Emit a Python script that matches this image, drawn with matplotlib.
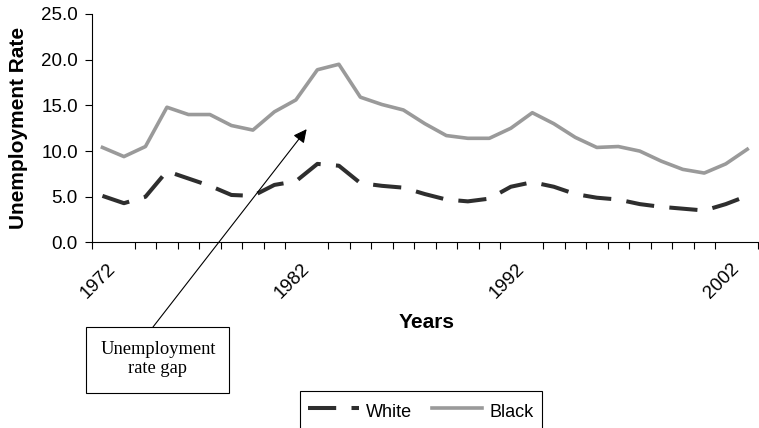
import matplotlib
matplotlib.use('Agg')
import matplotlib.pyplot as plt
from matplotlib.patches import Rectangle
import numpy as np

# Annual unemployment rates (%) by race
years = list(range(1972, 2003))
white = [5.1, 4.3, 5.0, 7.8, 7.0, 6.2, 5.2, 5.1, 6.3, 6.7,
         8.6, 8.4, 6.5, 6.2, 6.0, 5.3, 4.7, 4.5, 4.8, 6.1,
         6.6, 6.1, 5.3, 4.9, 4.7, 4.2, 3.9, 3.7, 3.5, 4.2, 5.1]
black = [10.4, 9.4, 10.5, 14.8, 14.0, 14.0, 12.8, 12.3, 14.3, 15.6,
         18.9, 19.5, 15.9, 15.1, 14.5, 13.0, 11.7, 11.4, 11.4, 12.5,
         14.2, 13.0, 11.5, 10.4, 10.5, 10.0, 8.9, 8.0, 7.6, 8.6, 10.2]
labelled_years = [1972, 1982, 1992, 2002]

plt.rcParams['font.family'] = ['Liberation Sans', 'DejaVu Sans']

W, H = 759, 428
fig = plt.figure(figsize=(W / 100, H / 100), dpi=100)
ax = fig.add_axes([91.7 / W, 1 - 242.5 / H, (758 - 91.7) / W, (242.5 - 14) / H])

x = np.arange(len(years))
ax.plot(x, white, color='#2e2e2e', lw=2.9, dashes=(7, 3.8),
        solid_capstyle='butt', dash_capstyle='butt', label='White')
ax.plot(x, black, color='#9a9a9a', lw=2.6, label='Black')

ax.set_xlim(-0.5, len(years) - 0.5)
ax.set_ylim(0, 25)
ax.set_yticks(np.arange(0, 25.1, 5))
ax.set_yticklabels([f'{v:.1f}' for v in np.arange(0, 25.1, 5)])

# ticks sit between categories, labels every ten years
ax.set_xticks(np.arange(-0.5, len(years), 1), minor=True)
pos = [max(years.index(y) - 0.5, 0.5) for y in labelled_years]
ax.set_xticks(pos)
ax.set_xticklabels([str(y) for y in labelled_years], rotation=45,
                   ha='right', va='center', rotation_mode='anchor')
ax.tick_params(axis='x', which='major', length=0, pad=17, labelsize=13.5)
ax.tick_params(axis='x', which='minor', length=5, width=0.8, direction='out')
ax.tick_params(axis='y', length=5, width=0.8, direction='out', pad=5,
               labelsize=13.5)

for s in ['top', 'right']:
    ax.spines[s].set_visible(False)
for s in ['left', 'bottom']:
    ax.spines[s].set_linewidth(0.8)

ax.set_ylabel('Unemployment Rate', fontsize=15, fontweight='bold', va='center')
ax.yaxis.set_label_coords((18.7 - 91.7) / (758 - 91.7), 0.5)
ax.set_xlabel('Years', fontsize=15, fontweight='bold', va='center')
ax.xaxis.set_label_coords((427 - 91.7) / (758 - 91.7), (242.5 - 322) / 228.5)

# callout box with arrow
fig.add_artist(Rectangle((86 / W, 1 - 393 / H), 143 / W, 66 / H,
                         transform=fig.transFigure, fill=False,
                         edgecolor='black', lw=0.8))
fig.text(158 / W, 1 - 359 / H, 'Unemployment\nrate gap', ha='center',
         va='center', multialignment='center', fontsize=13.3,
         family='Liberation Serif', linespacing=1.2)
ax.annotate('', xy=(9.5, 12.4), xycoords='data',
            xytext=(153 / W, 1 - 327 / H), textcoords='figure fraction',
            arrowprops=dict(arrowstyle='-|>', color='black', lw=0.8,
                            mutation_scale=20, shrinkA=0, shrinkB=0))

leg = fig.legend(loc='upper left', bbox_to_anchor=(300 / W, 1 - 391 / H),
                 ncol=2, fontsize=13, frameon=True, fancybox=False,
                 framealpha=1, edgecolor='black', handlelength=2.8,
                 handleheight=1.6, handletextpad=0.4, columnspacing=1.1,
                 borderpad=0.45, borderaxespad=0)
leg.get_frame().set_linewidth(0.8)

fig.savefig('out.png', dpi=100)
plt.close(fig)
